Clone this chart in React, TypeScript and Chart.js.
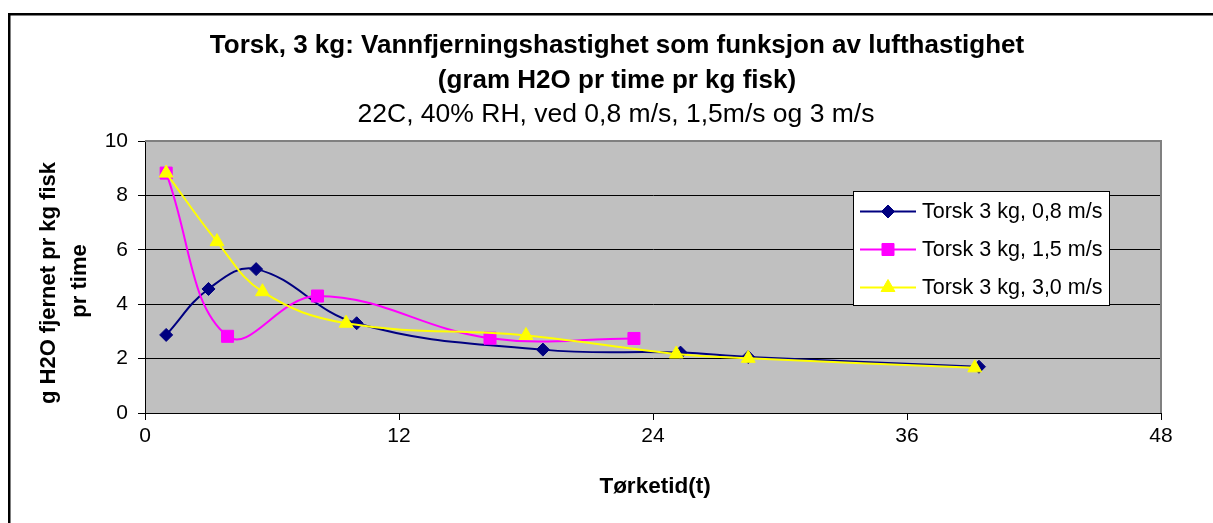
import React, { useEffect, useRef } from "react";
import { Chart, registerables } from "chart.js";

Chart.register(...registerables);

const FONT = "'Liberation Sans', Arial, sans-serif";

const titleLines = [
  "Torsk, 3 kg: Vannfjerningshastighet som funksjon av lufthastighet",
  "(gram H2O pr time pr kg fisk)",
];
const subtitle = "22C, 40% RH, ved 0,8 m/s, 1,5m/s og 3 m/s";
const xTitle = "Tørketid(t)";
const yTitleLines = ["g H2O fjernet pr kg fisk", "pr time"];

const seriesNames = ["Torsk 3 kg, 0,8 m/s", "Torsk 3 kg, 1,5 m/s", "Torsk 3 kg, 3,0 m/s"];
const seriesColors = ["#000080", "#FF00FF", "#FFFF00"];
const seriesMarkers = ["rectRot", "rect", "triangle"];
const seriesRadius = [6.5, 8.5, 8];

const s1X = [1, 3, 5.25, 10, 18.8, 25.3, 28.5, 39.4];
const s1Y = [2.87, 4.56, 5.29, 3.3, 2.33, 2.22, 2.06, 1.7];
const s2X = [1, 3.9, 8.15, 16.3, 23.1];
const s2Y = [8.82, 2.82, 4.3, 2.75, 2.74];
const s3X = [1, 3.4, 5.55, 9.5, 18, 25.1, 28.5, 39.2];
const s3Y = [8.82, 6.3, 4.46, 3.3, 2.85, 2.17, 2.01, 1.66];

const xMin = 0;
const xMax = 48;
const xStep = 12;
const yMin = 0;
const yMax = 10;
const yStep = 2;

function pts(xs: number[], ys: number[]) {
  return xs.map((x, i) => ({ x, y: ys[i] }));
}

function drawMarker(ctx: CanvasRenderingContext2D, style: string, r: number, x: number, y: number) {
  ctx.beginPath();
  if (style === "rectRot") {
    ctx.moveTo(x, y - r);
    ctx.lineTo(x + r, y);
    ctx.lineTo(x, y + r);
    ctx.lineTo(x - r, y);
    ctx.closePath();
  } else if (style === "rect") {
    const h = r * Math.SQRT1_2;
    ctx.rect(x - h, y - h, 2 * h, 2 * h);
  } else {
    const a = (2 * Math.PI) / 3;
    ctx.moveTo(x, y - r);
    ctx.lineTo(x + Math.sin(a) * r, y - Math.cos(a) * r);
    ctx.lineTo(x + Math.sin(2 * a) * r, y - Math.cos(2 * a) * r);
    ctx.closePath();
  }
  ctx.fill();
  ctx.stroke();
}

export default function App() {
  const ref = useRef<HTMLCanvasElement | null>(null);

  useEffect(() => {
    const canvas = ref.current;
    if (!canvas) return;

    const decor = {
      id: "decor",
      beforeDraw(chart: any) {
        const { ctx, chartArea: a } = chart;
        ctx.save();
        ctx.fillStyle = "#FFFFFF";
        ctx.fillRect(0, 0, chart.width, chart.height);
        ctx.fillStyle = "#C0C0C0";
        ctx.fillRect(a.left, a.top, a.right - a.left, a.bottom - a.top);
        ctx.restore();
      },
      beforeDatasetsDraw(chart: any) {
        const { ctx, chartArea: a } = chart;
        ctx.save();
        ctx.strokeStyle = "#808080";
        ctx.lineWidth = 2;
        ctx.beginPath();
        ctx.moveTo(a.left, a.top);
        ctx.lineTo(a.right, a.top);
        ctx.lineTo(a.right, a.bottom);
        ctx.stroke();
        ctx.restore();
      },
      afterDraw(chart: any) {
        const { ctx, chartArea: a } = chart;
        ctx.save();
        // outer frame (cut off at right and bottom)
        ctx.fillStyle = "#000000";
        ctx.fillRect(8, 13, 2.5, chart.height);
        ctx.fillRect(8, 13, chart.width, 2.5);

        // titles
        ctx.fillStyle = "#000000";
        ctx.textAlign = "center";
        ctx.textBaseline = "alphabetic";
        ctx.font = `bold 26px ${FONT}`;
        ctx.fillText(titleLines[0], 617, 53);
        ctx.fillText(titleLines[1], 617, 88);
        ctx.font = `26.5px ${FONT}`;
        ctx.fillText(subtitle, 616, 122);

        // x axis title
        ctx.font = `bold 22.5px ${FONT}`;
        ctx.textBaseline = "middle";
        ctx.fillText(xTitle, (a.left + a.right) / 2 + 2, 487);

        // y axis title
        ctx.font = `bold 22px ${FONT}`;
        ctx.save();
        ctx.translate(49, 283);
        ctx.rotate(-Math.PI / 2);
        ctx.fillText(yTitleLines[0], 0, 0);
        ctx.restore();
        ctx.save();
        ctx.translate(80, 281);
        ctx.rotate(-Math.PI / 2);
        ctx.fillText(yTitleLines[1], 0, 0);
        ctx.restore();

        // legend
        const lx = 853, ly = 191, lw = 256, lh = 114;
        ctx.fillStyle = "#FFFFFF";
        ctx.fillRect(lx, ly, lw, lh);
        ctx.strokeStyle = "#000000";
        ctx.lineWidth = 1;
        ctx.strokeRect(lx + 0.5, ly + 0.5, lw, lh);
        const rows = [211.5, 249.5, 287.5];
        chart.data.datasets.forEach((ds: any) => {
          const i = ds.legendIndex;
          const y = rows[i];
          ctx.strokeStyle = ds.borderColor;
          ctx.lineWidth = 2;
          ctx.beginPath();
          ctx.moveTo(860, y);
          ctx.lineTo(916, y);
          ctx.stroke();
          ctx.fillStyle = ds.pointBackgroundColor;
          ctx.strokeStyle = ds.pointBorderColor;
          ctx.lineWidth = 1;
          drawMarker(ctx, ds.pointStyle, ds.pointRadius, 888, y);
          ctx.fillStyle = "#000000";
          ctx.font = `21.5px ${FONT}`;
          ctx.textAlign = "left";
          ctx.textBaseline = "middle";
          ctx.fillText(seriesNames[i], 922, y + 1);
        });
        ctx.restore();
      },
    };

    const mk = (i: number, xs: number[], ys: number[], order: number) => ({
      label: seriesNames[i],
      legendIndex: i,
      data: pts(xs, ys),
      borderColor: seriesColors[i],
      backgroundColor: seriesColors[i],
      pointBackgroundColor: seriesColors[i],
      pointBorderColor: seriesColors[i],
      pointStyle: seriesMarkers[i],
      pointRadius: seriesRadius[i],
      pointBorderWidth: 1,
      borderWidth: 2,
      tension: 0.4,
      fill: false,
      order,
    });

    const chart = new Chart(canvas, {
      type: "line",
      data: {
        datasets: [
          mk(0, s1X, s1Y, 2),
          mk(1, s2X, s2Y, 1),
          mk(2, s3X, s3Y, 0),
        ] as any,
      },
      options: {
        responsive: false,
        animation: false,
        devicePixelRatio: 1,
        events: [],
        layout: { padding: { top: 141, right: 52, bottom: 0, left: 0 } },
        plugins: {
          legend: { display: false },
          title: { display: false },
          tooltip: { enabled: false },
        },
        scales: {
          x: {
            type: "linear",
            min: xMin,
            max: xMax,
            ticks: {
              stepSize: xStep,
              color: "#000000",
              font: { size: 21, family: FONT },
              padding: 4,
              maxRotation: 0,
            },
            grid: { drawOnChartArea: false, color: "#000000", tickLength: 7 },
            border: { color: "#000000", width: 1 },
            afterFit(s: any) {
              s.height = 110;
            },
          },
          y: {
            type: "linear",
            min: yMin,
            max: yMax,
            ticks: {
              stepSize: yStep,
              color: "#000000",
              font: { size: 21, family: FONT },
              padding: 10,
            },
            grid: { color: "#000000", tickLength: 7 },
            border: { color: "#000000", width: 1 },
            afterFit(s: any) {
              s.width = 145;
            },
          },
        },
      } as any,
      plugins: [decor],
    });

    return () => chart.destroy();
  }, []);

  return (
    <div style={{ position: "fixed", left: 0, top: 0, width: 1213, height: 523, overflow: "hidden", background: "#fff" }}>
      <canvas ref={ref} width={1213} height={523} style={{ display: "block" }} />
    </div>
  );
}
